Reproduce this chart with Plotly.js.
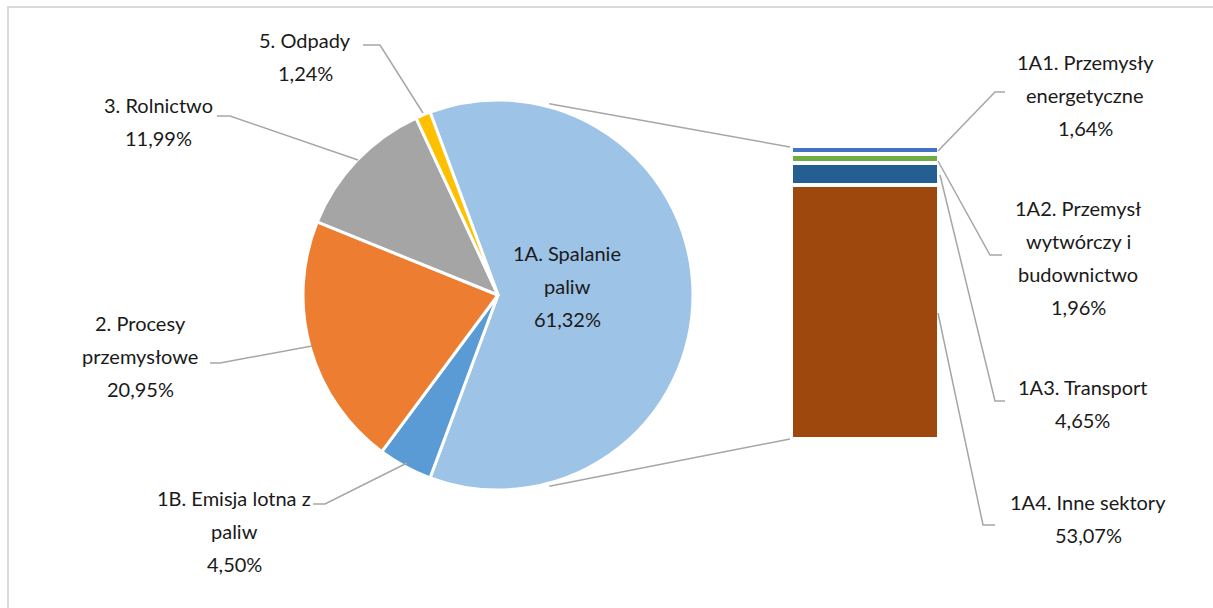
<!DOCTYPE html>
<html>
<head>
<meta charset="utf-8">
<script src="https://cdn.plot.ly/plotly-3.0.1.min.js"></script>
<style>html,body{margin:0;padding:0;background:#fff;}#chart{width:1213px;height:608px;}</style>
</head>
<body>
<div id="chart"></div>
<script>
// ---- data ----
var pieLabels = ["1A. Spalanie<br>paliw", "1B. Emisja lotna z<br>paliw", "2. Procesy<br>przemysłowe", "3. Rolnictwo", "5. Odpady"];
var pieValues = [61.32, 4.50, 20.95, 11.99, 1.24];
var barLabels = ["1A1. Przemysły<br>energetyczne", "1A2. Przemysł<br>wytwórczy i<br>budownictwo", "1A3. Transport", "1A4. Inne sektory"];
var barValues = [1.64, 1.96, 4.65, 53.07];

// ---- styles ----
var pieColors = ["#9DC3E6", "#5B9BD5", "#ED7D31", "#A5A5A5", "#FFC000"];
var barColors = ["#4472C4", "#70AD47", "#255E91", "#9E480E"];
var W = 1213, H = 608;
var FONT = "Lato, 'Open Sans', sans-serif";
var TXT = "#1a1a1a";
var LEAD = "#A6A6A6";

function px(x) { return x / W; }
function py(y) { return 1 - y / H; }
function fmt(v) { return v.toFixed(2).replace('.', ',') + '%'; }

var pieTotal = pieValues.reduce(function (a, b) { return a + b; }, 0);
var barTotal = barValues.reduce(function (a, b) { return a + b; }, 0);
var rotation = 90 - (pieValues[0] / pieTotal) * 360 / 2;

// pie geometry (pixels)
var cx = 498, cy = 295, R = 195;

var traces = [{
  type: 'pie',
  labels: pieLabels,
  values: pieValues,
  sort: false,
  direction: 'clockwise',
  rotation: rotation,
  textinfo: 'none',
  hoverinfo: 'label+percent',
  marker: { colors: pieColors, line: { color: '#fff', width: 3 } },
  domain: { x: [px(cx - R), px(cx + R)], y: [py(cy + R), py(cy - R)] },
  showlegend: false
}];

for (var i = barValues.length - 1; i >= 0; i--) {
  traces.push({
    type: 'bar',
    x: [0],
    y: [barValues[i]],
    name: barLabels[i],
    width: 1,
    marker: { color: barColors[i], line: { color: '#fff', width: 4 } },
    hoverinfo: 'name+y',
    showlegend: false,
    xaxis: 'x', yaxis: 'y'
  });
}

// label positions (pixel centers of lines), for pie then bar
var lineGap = 33;
var pieLabelPos = [[567, 253], [234, 498], [140, 323], [158, 105], [305, 40]];
var barLabelPos = [[1085, 62], [1078, 208], [1082, 387], [1088, 502]];

var annotations = [];
function addLabel(label, value, pos) {
  var lines = label.split('<br>');
  lines.push(fmt(value));
  lines.forEach(function (t, k) {
    annotations.push({
      xref: 'paper', yref: 'paper',
      x: px(pos[0]), y: py(pos[1] + k * lineGap),
      xanchor: 'center', yanchor: 'middle',
      text: t, showarrow: false,
      font: { family: FONT, size: 20, color: TXT }
    });
  });
}
pieLabels.forEach(function (l, i) { addLabel(l, pieValues[i], pieLabelPos[i]); });
barLabels.forEach(function (l, i) { addLabel(l, barValues[i], barLabelPos[i]); });

function path(pts) {
  return pts.map(function (p, k) { return (k ? 'L' : 'M') + px(p[0]).toFixed(5) + ',' + py(p[1]).toFixed(5); }).join(' ');
}
function line(pts, color, width) {
  return { type: 'path', xref: 'paper', yref: 'paper', path: path(pts), line: { color: color, width: width } };
}

// bar pixel box
var barL = 791, barR = 939, barT = 146, barB = 439;

// connector lines from pie to bar
var a1 = 15 * Math.PI / 180, a2 = 165 * Math.PI / 180, Rc = R + 3;
var shapes = [
  { type: 'rect', xref: 'paper', yref: 'paper', x0: px(8), x1: px(W + 10), y0: py(7), y1: py(H + 10), line: { color: '#D9D9D9', width: 2 }, fillcolor: 'rgba(0,0,0,0)' },
  line([[cx + Rc * Math.sin(a1), cy - Rc * Math.cos(a1)], [barL - 1, 147]], LEAD, 1.5),
  line([[cx + Rc * Math.sin(a2), cy - Rc * Math.cos(a2)], [barL - 1, 439]], LEAD, 1.5),
  // pie leaders
  line([[363, 45], [380, 45], [423, 113]], LEAD, 1.5),
  line([[217, 116], [230, 116], [358, 160]], LEAD, 1.5),
  line([[210, 363], [220, 363], [312, 346]], LEAD, 1.5),
  line([[313, 504], [325, 504], [407, 463]], LEAD, 1.5),
  // bar leaders
  line([[1005, 92], [995, 92], [938, 151]], LEAD, 1.5),
  line([[1002, 255], [990, 255], [938, 161]], LEAD, 1.5),
  line([[1005, 401], [995, 401], [940, 175]], LEAD, 1.5),
  line([[995, 525], [983, 525], [938, 313]], LEAD, 1.5)
];

var layout = {
  width: W, height: H,
  margin: { l: 0, r: 0, t: 0, b: 0 },
  paper_bgcolor: '#fff', plot_bgcolor: 'rgba(0,0,0,0)',
  barmode: 'stack',
  bargap: 0,
  showlegend: false,
  xaxis: { domain: [px(barL), px(barR)], range: [-0.5, 0.5], visible: false, fixedrange: true },
  yaxis: { domain: [py(barB), py(barT)], range: [0, barTotal], visible: false, fixedrange: true },
  annotations: annotations,
  shapes: shapes,
  font: { family: FONT }
};

Plotly.newPlot('chart', traces, layout, { displayModeBar: false, staticPlot: true });
</script>
</body>
</html>
